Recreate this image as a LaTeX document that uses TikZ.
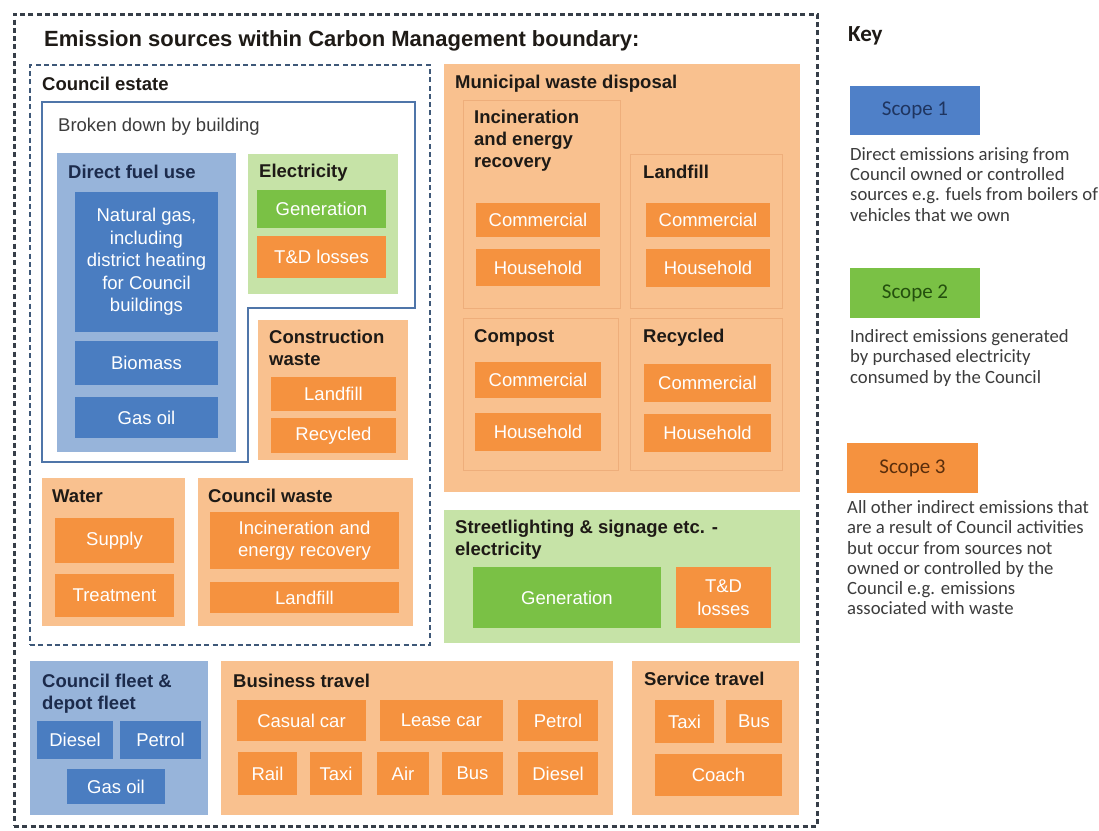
\documentclass[tikz,border=0pt]{standalone}
\usepackage{fontspec}
\setmainfont{Liberation Sans}
\newfontfamily\keyfont{Carlito}
\definecolor{lblue}{HTML}{97B4DA}
\definecolor{dblue}{HTML}{4A7DC1}
\definecolor{kblue}{HTML}{4F80C8}
\definecolor{lgreen}{HTML}{C6E3A7}
\definecolor{dgreen}{HTML}{7AC145}
\definecolor{lorange}{HTML}{F9C18F}
\definecolor{dorange}{HTML}{F5923F}
\definecolor{subline}{HTML}{EEAE7B}
\definecolor{navy}{HTML}{1C2B4C}
\definecolor{hdtext}{HTML}{1E1A16}
\definecolor{outerline}{HTML}{363E48}
\definecolor{estateline}{HTML}{3E5878}
\definecolor{bdline}{HTML}{4F75A9}
\definecolor{keygray}{HTML}{3C3C3C}
\definecolor{s1text}{HTML}{1F3560}
\definecolor{s2text}{HTML}{24500E}
\definecolor{s3text}{HTML}{5A2E0C}
\newcommand\regf{\fontsize{18.5}{22.5}\selectfont}
\newcommand\boldf{\fontsize{18.5}{22}\selectfont\bfseries}
\newcommand\rbox[6]{\node[#1, minimum width={(#5-#3)*1pt}, minimum height={(#6-#4)*1pt}] (#2) at ({(#3+#5)/2},{(#4+#6)/2})}
\tikzset{
  bx/.style={rectangle, inner sep=0pt, outer sep=0pt},
  lb/.style={bx, fill=lblue},
  db/.style={bx, fill=dblue, text=white, font=\regf, align=center},
  lg/.style={bx, fill=lgreen},
  dg/.style={bx, fill=dgreen, text=white, font=\regf, align=center},
  lo/.style={bx, fill=lorange},
  dor/.style={bx, fill=dorange, text=white, font=\regf, align=center},
  sub/.style={bx, draw=subline, line width=1pt},
  outerb/.style={bx, draw=outerline, line width=3pt, dash pattern=on 5pt off 3.3pt},
  estateb/.style={bx, draw=estateline, line width=2.4pt, dash pattern=on 5pt off 3.3pt},
  bdb/.style={draw=bdline, line width=1.8pt},
  hd/.style={inner sep=0pt, anchor=base west, font=\boldf, text=hdtext},
  hdml/.style={inner sep=0pt, anchor=north west, font=\boldf, text=hdtext, align=left},
  hdreg/.style={inner sep=0pt, anchor=base west, font=\regf, text=keygray},
  titlef/.style={inner sep=0pt, anchor=base west, font=\fontsize{22}{26}\selectfont\bfseries, text=hdtext},
  keyt/.style={inner sep=0pt, anchor=base west, font=\keyfont\fontsize{23}{26}\selectfont\bfseries, text=hdtext},
  keyd/.style={inner sep=0pt, anchor=north west, align=left, font=\keyfont\fontsize{18.7}{20.2}\selectfont, text=keygray},
  k1/.style={bx, fill=kblue, text=s1text, font=\keyfont\fontsize{21}{24}\selectfont},
  k2/.style={bx, fill=dgreen, text=s2text, font=\keyfont\fontsize{21}{24}\selectfont},
  k3/.style={bx, fill=dorange, text=s3text, font=\keyfont\fontsize{21}{24}\selectfont},
}
\begin{document}
\begin{tikzpicture}[x=1pt,y=-1pt]
\useasboundingbox[fill=white] (0,0) rectangle (1099,830);
% outer boundary
\rbox{outerb}{outer}{14}{14}{817}{826}{};
\node[titlef] (title) at (44,46) {Emission sources within Carbon Management boundary:};
% council estate
\rbox{estateb}{estate}{30}{65}{430}{645}{};
\node[hd] (estatelab) at (42,90) {Council estate};
\draw[bdb] (42,102) -| (415,308) -| (248,462) -| cycle;
\node[hdreg] (bdlab) at (58,131) {Broken down by building};
% direct fuel use
\rbox{lb}{dfu}{57}{153}{236}{452}{};
\node[hd, text=navy] (dfulab) at (68,178) {Direct fuel use};
\rbox{db}{ng}{75}{192}{218}{332}{Natural gas,\\including\\district heating\\for Council\\buildings};
\rbox{db}{bio}{75}{341}{218}{385}{Biomass};
\rbox{db}{goil}{75}{397}{218}{438}{Gas oil};
% electricity
\rbox{lg}{elec}{248}{154}{398}{294}{};
\node[hd] (eleclab) at (259,177) {Electricity};
\rbox{dg}{egen}{257}{190}{386}{228}{Generation};
\rbox{dor}{etd}{257}{236}{386}{278}{T\&D losses};
% construction waste
\rbox{lo}{cw}{258}{320}{408}{460}{};
\node[hdml] (cwlab) at (269,329.5) {Construction\\waste};
\rbox{dor}{cwl}{271}{377}{396}{411}{Landfill};
\rbox{dor}{cwr}{271}{418}{396}{453}{Recycled};
% water
\rbox{lo}{water}{42}{478}{185}{626}{};
\node[hd] (waterlab) at (52,502) {Water};
\rbox{dor}{sup}{55}{518}{174}{563}{Supply};
\rbox{dor}{treat}{55}{574}{174}{617}{Treatment};
% council waste
\rbox{lo}{cwaste}{198}{478}{413}{626}{};
\node[hd] (cwastelab) at (208,502) {Council waste};
\rbox{dor}{cwinc}{210}{512}{399}{569}{Incineration and\\energy recovery};
\rbox{dor}{cwland}{210}{582}{399}{613}{Landfill};
% municipal waste disposal
\rbox{lo}{mwd}{444}{64}{800}{492}{};
\node[hd] (mwdlab) at (455,88) {Municipal waste disposal};
\rbox{sub}{minc}{463}{100}{620}{308}{};
\rbox{sub}{mland}{630}{154}{782}{308}{};
\rbox{sub}{mcomp}{463}{318}{618}{470}{};
\rbox{sub}{mrec}{630}{318}{782}{470}{};
\node[hdml] (minclab) at (474,110) {Incineration\\and energy\\recovery};
\node[hd] (mlandlab) at (643,178) {Landfill};
\node[hd] (mcomplab) at (474,342) {Compost};
\node[hd] (mreclab) at (643,342) {Recycled};
\rbox{dor}{mic}{476}{203}{600}{237}{Commercial};
\rbox{dor}{mih}{476}{249}{600}{286}{Household};
\rbox{dor}{mlc}{646}{203}{770}{237}{Commercial};
\rbox{dor}{mlh}{646}{249}{770}{287}{Household};
\rbox{dor}{mcc}{475}{362}{601}{398}{Commercial};
\rbox{dor}{mch}{475}{413}{601}{451}{Household};
\rbox{dor}{mrc}{644}{364}{771}{402}{Commercial};
\rbox{dor}{mrh}{644}{414}{771}{452}{Household};
% streetlighting
\rbox{lg}{sl}{444}{510}{800}{643}{};
\node[hdml] (sllab) at (455,520) {Streetlighting \& signage etc. -\\electricity};
\rbox{dg}{slgen}{473}{567}{661}{628}{Generation};
\rbox{dor}{sltd}{676}{567}{771}{628}{T\&D\\losses};
% council fleet
\rbox{lb}{fleet}{30}{661}{208}{815}{};
\node[hdml, text=navy] (fleetlab) at (42,674) {Council fleet \&\\depot fleet};
\rbox{db}{fd}{37}{721}{113}{759}{Diesel};
\rbox{db}{fp}{120}{721}{201}{759}{Petrol};
\rbox{db}{fg}{67}{769}{165}{804}{Gas oil};
% business travel
\rbox{lo}{bt}{221}{661}{613}{815}{};
\node[hd] (btlab) at (233,687) {Business travel};
\rbox{dor}{btcc}{237}{700}{366}{741}{Casual car};
\rbox{dor}{btlc}{380}{700}{503}{741}{Lease car};
\rbox{dor}{btp}{518}{700}{598}{741}{Petrol};
\rbox{dor}{btr}{238}{752}{297}{795}{Rail};
\rbox{dor}{btt}{310}{752}{362}{795}{Taxi};
\rbox{dor}{bta}{377}{752}{429}{795}{Air};
\rbox{dor}{btb}{442}{752}{503}{795}{Bus};
\rbox{dor}{btd}{518}{752}{598}{795}{Diesel};
% service travel
\rbox{lo}{st}{632}{661}{799}{815}{};
\node[hd] (stlab) at (644,685) {Service travel};
\rbox{dor}{stt}{655}{700}{714}{743}{Taxi};
\rbox{dor}{stb}{726}{700}{782}{743}{Bus};
\rbox{dor}{stc}{655}{754}{782}{796}{Coach};
% key
\node[keyt] (keylab) at (848,41) {Key};
\rbox{k1}{s1}{850}{86}{980}{135}{Scope 1};
\node[keyd] (s1d) at (850,147.5) {Direct emissions arising from\\Council owned or controlled\\sources e.g. fuels from boilers of\\vehicles that we own};
\rbox{k2}{s2}{850}{268}{980}{318}{Scope 2};
\node[keyd] (s2d) at (850,329.5) {Indirect emissions generated\\by purchased electricity\\consumed by the Council};
\rbox{k3}{s3}{847}{443}{978}{493}{Scope 3};
\node[keyd] (s3d) at (847,500.5) {All other indirect emissions that\\are a result of Council activities\\but occur from sources not\\owned or controlled by the\\Council e.g. emissions\\associated with waste};
\end{tikzpicture}
\end{document}
